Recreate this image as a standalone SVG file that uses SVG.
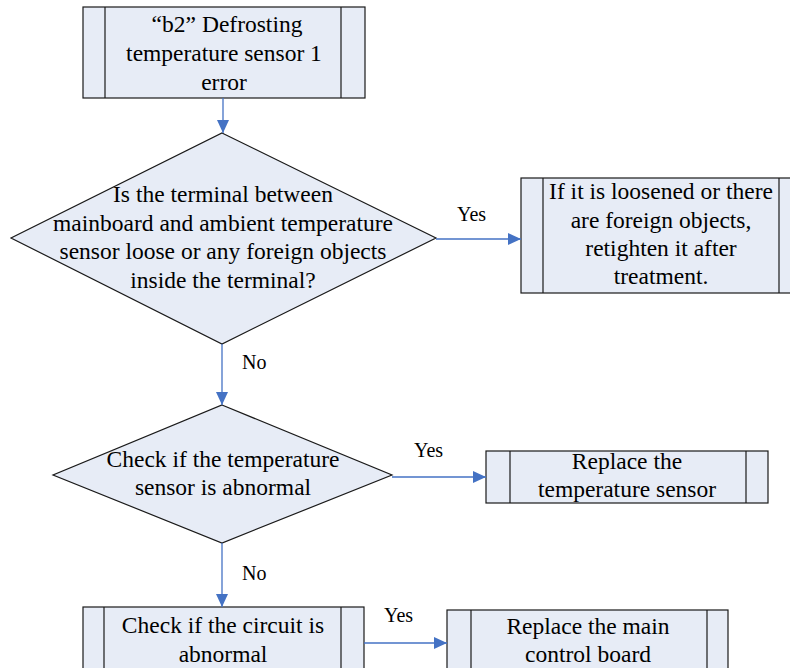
<svg xmlns="http://www.w3.org/2000/svg" width="790" height="668" viewBox="0 0 790 668">
<defs>
<style>
.shape{fill:#E7ECF6;stroke:#1a1a1a;stroke-width:1.2}
.inner{stroke:#1a1a1a;stroke-width:1.2;fill:none}
.t{font-family:"Liberation Serif","Times New Roman",serif;font-size:23.5px;fill:#000;text-anchor:middle}
.lbl{font-family:"Liberation Serif","Times New Roman",serif;font-size:20px;fill:#000}
.conn{stroke:#4472C4;stroke-width:1.3;fill:none;marker-end:url(#arr)}
</style>
<marker id="arr" markerUnits="userSpaceOnUse" markerWidth="13" markerHeight="12" refX="13" refY="6" orient="auto">
<path d="M0,0 L13,6 L0,12 z" fill="#4472C4"/>
</marker>
</defs>
<rect width="790" height="668" fill="#fff"/>
<g id="n_start">
<rect class="shape" x="83" y="7" width="282" height="91"/>
<line class="inner" x1="105" y1="7" x2="105" y2="98"/>
<line class="inner" x1="341" y1="7" x2="341" y2="98"/>
<text class="t" x="227" y="32">“b2”<tspan dx="6">Defrosting</tspan></text>
<text class="t" x="224" y="61">temperature sensor 1</text>
<text class="t" x="224" y="90">error</text>
</g>
<g id="n_q1">
<polygon class="shape" points="222,133 436,238 222,344 11,238"/>
<text class="t" x="223" y="202">Is the terminal between</text>
<text class="t" x="223" y="231">mainboard and ambient temperature</text>
<text class="t" x="223" y="259">sensor loose or any foreign objects</text>
<text class="t" x="223" y="288">inside the terminal?</text>
</g>
<g id="n_fix1">
<rect class="shape" x="521" y="178" width="280" height="115"/>
<line class="inner" x1="543" y1="178" x2="543" y2="293"/>
<line class="inner" x1="779" y1="178" x2="779" y2="293"/>
<text class="t" x="661" y="199">If it is loosened or there</text>
<text class="t" x="661" y="228">are foreign objects,</text>
<text class="t" x="661" y="256">retighten it after</text>
<text class="t" x="661" y="284">treatment.</text>
</g>
<g id="n_q2">
<polygon class="shape" points="222,405 392,475 222,543 53,475"/>
<text class="t" x="223" y="467">Check if the temperature</text>
<text class="t" x="223" y="495">sensor is abnormal</text>
</g>
<g id="n_fix2">
<rect class="shape" x="486" y="451" width="282" height="52"/>
<line class="inner" x1="510" y1="451" x2="510" y2="503"/>
<line class="inner" x1="746" y1="451" x2="746" y2="503"/>
<text class="t" x="627" y="469">Replace the</text>
<text class="t" x="627" y="497">temperature sensor</text>
</g>
<g id="n_q3">
<rect class="shape" x="83" y="607" width="281" height="75"/>
<line class="inner" x1="104" y1="607" x2="104" y2="682"/>
<line class="inner" x1="341" y1="607" x2="341" y2="682"/>
<text class="t" x="223" y="633">Check if the circuit is</text>
<text class="t" x="223" y="662">abnormal</text>
</g>
<g id="n_fix3">
<rect class="shape" x="447" y="610" width="281" height="72"/>
<line class="inner" x1="471" y1="610" x2="471" y2="682"/>
<line class="inner" x1="707" y1="610" x2="707" y2="682"/>
<text class="t" x="588" y="634">Replace the main</text>
<text class="t" x="588" y="662">control board</text>
</g>
<g id="connectors">
<line class="conn" x1="223" y1="98" x2="223" y2="133"/>
<line class="conn" x1="436" y1="239" x2="521" y2="239"/>
<line class="conn" x1="222" y1="344" x2="222" y2="405"/>
<line class="conn" x1="392" y1="477" x2="486" y2="477"/>
<line class="conn" x1="222" y1="543" x2="222" y2="607"/>
<line class="conn" x1="364" y1="643" x2="447" y2="643"/>
<text class="lbl" x="457" y="221">Yes</text>
<text class="lbl" x="242" y="369">No</text>
<text class="lbl" x="414" y="457">Yes</text>
<text class="lbl" x="242" y="580">No</text>
<text class="lbl" x="384" y="622">Yes</text>
</g>
</svg>
